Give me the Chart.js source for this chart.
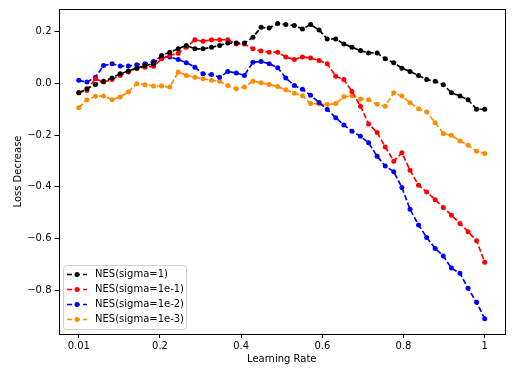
<!DOCTYPE html>
<html>
<head>
<meta charset="utf-8">
<script src="https://cdn.jsdelivr.net/npm/chart.js@4"></script>
<style>
    body { margin: 0; background: #fff; }
</style>
</head>
<body>
<canvas id="lineChart" width="532" height="375"></canvas>
<script>
// learning rates (x positions of the points)
const learningRates = [0.000, 0.020, 0.041, 0.061, 0.082, 0.102, 0.122, 0.143, 0.163, 0.184,
    0.204, 0.224, 0.245, 0.265, 0.286, 0.306, 0.327, 0.347, 0.367, 0.388,
    0.408, 0.429, 0.449, 0.469, 0.490, 0.510, 0.531, 0.551, 0.571, 0.592,
    0.612, 0.633, 0.653, 0.673, 0.694, 0.714, 0.735, 0.755, 0.776, 0.796,
    0.816, 0.837, 0.857, 0.878, 0.898, 0.918, 0.939, 0.959, 0.980, 1.000];

const sigma1 = [-0.036, -0.021, -0.004, 0.008, 0.021, 0.037, 0.048, 0.059, 0.069, 0.076,
    0.108, 0.121, 0.134, 0.147, 0.134, 0.134, 0.140, 0.147, 0.156, 0.156,
    0.156, 0.179, 0.217, 0.214, 0.232, 0.228, 0.224, 0.211, 0.228, 0.207,
    0.172, 0.172, 0.153, 0.140, 0.127, 0.118, 0.118, 0.095, 0.080, 0.059,
    0.046, 0.031, 0.015, 0.008, -0.005, -0.036, -0.049, -0.063, -0.100, -0.100];

const sigma1e1 = [-0.036, -0.027, 0.018, 0.005, 0.015, 0.031, 0.044, 0.059, 0.063, 0.066,
    0.095, 0.108, 0.117, 0.140, 0.169, 0.163, 0.169, 0.169, 0.169, 0.153,
    0.153, 0.134, 0.125, 0.121, 0.121, 0.102, 0.093, 0.102, 0.098, 0.089,
    0.076, 0.028, 0.015, -0.031, -0.088, -0.157, -0.190, -0.246, -0.301, -0.268,
    -0.336, -0.394, -0.420, -0.450, -0.480, -0.510, -0.542, -0.574, -0.609, -0.692];

const sigma1e2 = [0.012, 0.005, 0.024, 0.069, 0.076, 0.067, 0.067, 0.072, 0.076, 0.085,
    0.105, 0.102, 0.093, 0.080, 0.063, 0.037, 0.034, 0.024, 0.046, 0.040,
    0.031, 0.082, 0.085, 0.076, 0.061, 0.021, -0.008, -0.023, -0.046, -0.074,
    -0.101, -0.133, -0.161, -0.185, -0.205, -0.230, -0.282, -0.320, -0.342, -0.403,
    -0.487, -0.548, -0.596, -0.639, -0.668, -0.715, -0.735, -0.793, -0.847, -0.911];

const sigma1e3 = [-0.094, -0.063, -0.050, -0.049, -0.063, -0.053, -0.033, -0.001, -0.005, -0.010,
    -0.010, -0.014, 0.044, 0.031, 0.024, 0.018, 0.012, 0.008, -0.008, -0.021,
    -0.014, 0.008, 0.003, -0.004, -0.012, -0.025, -0.038, -0.048, -0.078, -0.080,
    -0.082, -0.078, -0.052, -0.048, -0.060, -0.063, -0.081, -0.088, -0.036, -0.049,
    -0.075, -0.098, -0.111, -0.152, -0.194, -0.201, -0.223, -0.239, -0.263, -0.271];

const seriesLabels = ['NES(sigma=1)', 'NES(sigma=1e-1)', 'NES(sigma=1e-2)', 'NES(sigma=1e-3)'];
const seriesColors = ['#000000', '#ff0000', '#0000ff', '#ff8c00'];

const xTickValues = [0, 0.2, 0.4, 0.6, 0.8, 1];
const xTickLabels = ['0.01', '0.2', '0.4', '0.6', '0.8', '1'];
const yTickValues = [-0.8, -0.6, -0.4, -0.2, 0.0, 0.2];
const yTickLabels = ['\u22120.8', '\u22120.6', '\u22120.4', '\u22120.2', '0.0', '0.2'];

const FONT = 'DejaVu Sans';

function toPoints(values) {
    return values.map((v, i) => ({ x: learningRates[i], y: v }));
}

const frameAndLegend = {
    id: 'frameAndLegend',
    afterDraw(chart) {
        const ctx = chart.ctx;
        const { left, top, right, bottom } = chart.chartArea;
        ctx.save();
        ctx.strokeStyle = '#000';
        ctx.lineWidth = 1;
        ctx.strokeRect(Math.round(left) + 0.5, Math.round(top) + 0.5,
            Math.round(right - left) - 1, Math.round(bottom - top));

        // legend box, lower left
        const bx = 63.5, by = 265.5, bw = 123, bh = 64, r = 3;
        ctx.beginPath();
        ctx.moveTo(bx + r, by);
        ctx.arcTo(bx + bw, by, bx + bw, by + bh, r);
        ctx.arcTo(bx + bw, by + bh, bx, by + bh, r);
        ctx.arcTo(bx, by + bh, bx, by, r);
        ctx.arcTo(bx, by, bx + bw, by, r);
        ctx.closePath();
        ctx.fillStyle = 'rgba(255,255,255,0.8)';
        ctx.fill();
        ctx.strokeStyle = '#d0d0d0';
        ctx.stroke();

        ctx.font = '10px "' + FONT + '"';
        ctx.textBaseline = 'middle';
        ctx.textAlign = 'left';
        seriesLabels.forEach((label, i) => {
            const yy = 274.5 + i * 15;
            ctx.strokeStyle = seriesColors[i];
            ctx.lineWidth = 1.7;
            ctx.setLineDash([5, 3]);
            ctx.beginPath();
            ctx.moveTo(67, yy);
            ctx.lineTo(87, yy);
            ctx.stroke();
            ctx.setLineDash([]);
            ctx.fillStyle = seriesColors[i];
            ctx.beginPath();
            ctx.arc(77, yy, 2.5, 0, Math.PI * 2);
            ctx.fill();
            ctx.fillStyle = '#000';
            ctx.fillText(label, 95, yy);
        });
        ctx.restore();
    }
};

new Chart(document.getElementById('lineChart').getContext('2d'), {
    type: 'line',
    data: {
        datasets: seriesLabels.map((label, i) => ({
            label: label,
            data: toPoints([sigma1, sigma1e1, sigma1e2, sigma1e3][i]),
            borderColor: seriesColors[i],
            backgroundColor: seriesColors[i],
            borderWidth: 1.7,
            borderDash: [5.5, 2.5],
            pointRadius: 2.5,
            pointBorderWidth: 0,
            pointBackgroundColor: seriesColors[i],
            tension: 0,
            fill: false
        }))
    },
    options: {
        responsive: false,
        animation: false,
        layout: { padding: { top: 8, right: 27, left: 0, bottom: 0 } },
        plugins: {
            legend: { display: false },
            tooltip: { enabled: false }
        },
        scales: {
            x: {
                type: 'linear',
                min: -0.05,
                max: 1.05,
                afterBuildTicks: scale => { scale.ticks = xTickValues.map(v => ({ value: v })); },
                afterFit: scale => { scale.height = 41; },
                ticks: {
                    color: '#000',
                    font: { family: FONT, size: 10 },
                    padding: 2,
                    maxRotation: 0,
                    callback: (value, index) => xTickLabels[index]
                },
                grid: { drawOnChartArea: false, tickLength: 4, color: '#000' },
                border: { display: false },
                title: {
                    display: true,
                    text: 'Learning Rate',
                    color: '#000',
                    font: { family: FONT, size: 10 },
                    padding: { top: 3, bottom: 10 }
                }
            },
            y: {
                type: 'linear',
                min: -0.97,
                max: 0.288,
                afterBuildTicks: scale => { scale.ticks = yTickValues.map(v => ({ value: v })); },
                afterFit: scale => { scale.width = 58.5; },
                ticks: {
                    color: '#000',
                    font: { family: FONT, size: 10 },
                    padding: 3,
                    callback: (value, index) => yTickLabels[index]
                },
                grid: { drawOnChartArea: false, tickLength: 4, color: '#000' },
                border: { display: false },
                title: {
                    display: true,
                    text: 'Loss Decrease',
                    color: '#000',
                    font: { family: FONT, size: 10 },
                    padding: { top: 12, bottom: 4 }
                }
            }
        }
    },
    plugins: [frameAndLegend]
});
</script>
</body>
</html>
